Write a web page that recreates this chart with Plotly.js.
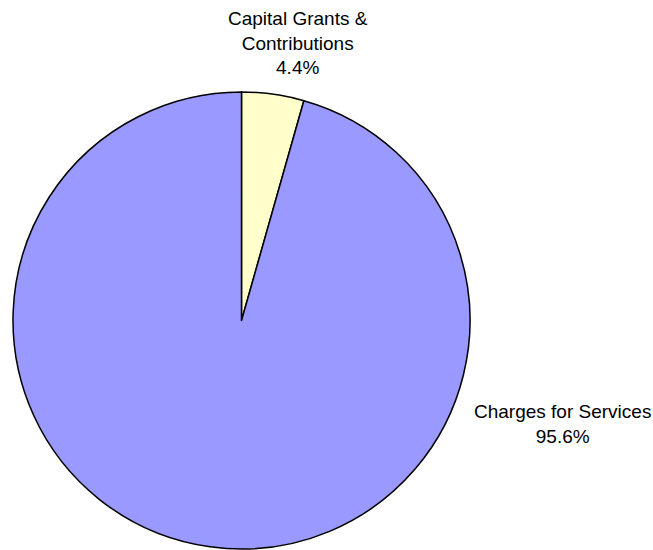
<!DOCTYPE html>
<html><head><meta charset="utf-8">
<script src="https://cdn.plot.ly/plotly-3.0.1.min.js"></script>
<style>html,body{margin:0;padding:0;background:#fff}#c{width:653px;height:550px}</style>
</head><body><div id="c"></div>
<script>
const categories = ["Capital Grants &<br>Contributions", "Charges for Services"];
const values = [4.4, 95.6];
const colors = ["#FFFFCC", "#9999FF"];
const W = 653, H = 550;
const cx = 241.5, cy = 320.5, r = 228.5;
const trace = {
  type: "pie",
  labels: categories,
  values: values,
  sort: false,
  direction: "clockwise",
  rotation: 0,
  textinfo: "none",
  hoverinfo: "label+percent",
  marker: {colors: colors, line: {color: "#000", width: 1.5}},
  domain: {x: [(cx - r) / W, (cx + r) / W], y: [1 - (cy + r) / H, 1 - (cy - r) / H]},
  showlegend: false
};
const font = {family: "Liberation Sans, Arial, sans-serif", size: 19, color: "#000"};
const annotations = [
  {text: categories[0] + "<br>" + values[0].toFixed(1) + "%", x: 298 / W, y: 1 - 43 / H},
  {text: categories[1] + "<br>" + values[1].toFixed(1) + "%", x: 562 / W, y: 1 - 424 / H}
].map(a => Object.assign(a, {xref: "paper", yref: "paper", showarrow: false, xanchor: "center", yanchor: "middle", align: "center", font: font}));
Plotly.newPlot("c", [trace], {
  width: W, height: H,
  margin: {l: 0, r: 0, t: 0, b: 0},
  paper_bgcolor: "#fff",
  font: font,
  annotations: annotations
}, {staticPlot: true});
</script></body></html>
